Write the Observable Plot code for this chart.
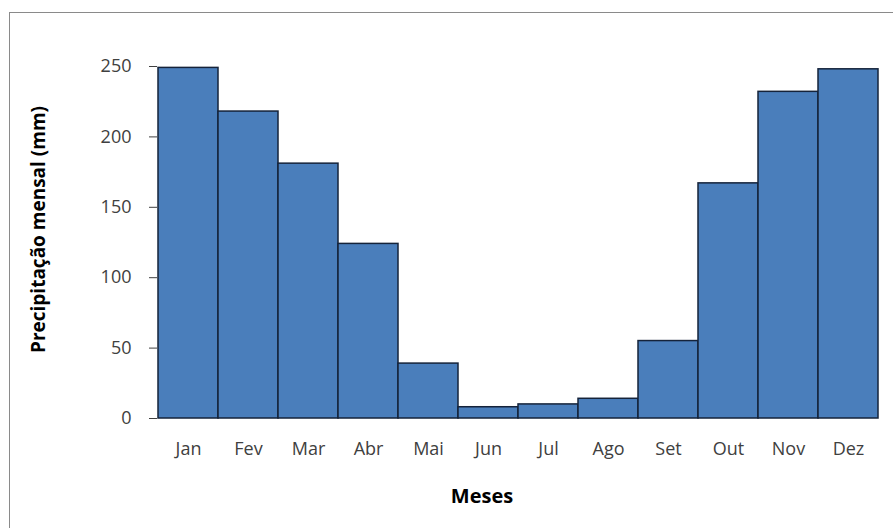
<!DOCTYPE html>
<html>
<head>
<meta charset="utf-8">
<script src="https://cdn.jsdelivr.net/npm/d3@7"></script>
<script src="https://cdn.jsdelivr.net/npm/@observablehq/plot@0.6"></script>
<style>
  html, body { margin: 0; padding: 0; background: #fff; }
  #wrap { position: relative; width: 893px; height: 528px; overflow: hidden; }
  #border { position: absolute; left: 9px; top: 12px; width: 900px; height: 600px; border: 1px solid #8a8a8a; pointer-events: none; }
</style>
</head>
<body>
<div id="wrap"><div id="chart"></div><div id="border"></div></div>
<script>
const months = ["Jan", "Fev", "Mar", "Abr", "Mai", "Jun", "Jul", "Ago", "Set", "Out", "Nov", "Dez"];
const precip = [249, 218, 181, 124, 39, 8, 10, 14, 55, 167, 232, 248];
const yTicks = [0, 50, 100, 150, 200, 250];

const data = months.map((m, i) => ({ month: m, value: precip[i] }));

const chart = Plot.plot({
  width: 893,
  height: 528,
  marginLeft: 157,
  marginRight: 15,
  marginTop: 66,
  marginBottom: 110,
  style: { fontFamily: "'Open Sans', sans-serif", background: "transparent" },
  x: { type: "band", domain: months, padding: 0 },
  y: { domain: [0, 250] },
  marks: [
    Plot.barY(data, { x: "month", y: "value", fill: "#4a7ebb", stroke: "#15233a", strokeWidth: 1.5 }),
    Plot.axisY({
      ticks: yTicks, tickSize: 8, tickPadding: 18, fontSize: 18, color: "#404040",
      label: "Precipitação mensal (mm)", labelAnchor: "center", labelArrow: false, labelOffset: 126
    }),
    Plot.axisX({
      tickSize: 0, tickPadding: 24, fontSize: 18, color: "#404040",
      label: "Meses", labelAnchor: "center", labelArrow: false, labelOffset: 84
    })
  ]
});

// style axis titles
const yl = chart.querySelector("g[aria-label='y-axis label']");
const xl = chart.querySelector("g[aria-label='x-axis label']");
function shift(g, dx, dy, size) {
  if (!g) return;
  g.querySelectorAll("text").forEach(t => {
    t.setAttribute("font-weight", "bold");
    t.setAttribute("fill", "#000");
    t.setAttribute("font-size", size);
  });
  const prev = g.getAttribute("transform") || "";
  g.setAttribute("transform", `translate(${dx},${dy}) ${prev}`);
}
shift(yl, 0, -13, "19");
shift(xl, -36, 0, "20");
document.getElementById("chart").appendChild(chart);
</script>
</body>
</html>
